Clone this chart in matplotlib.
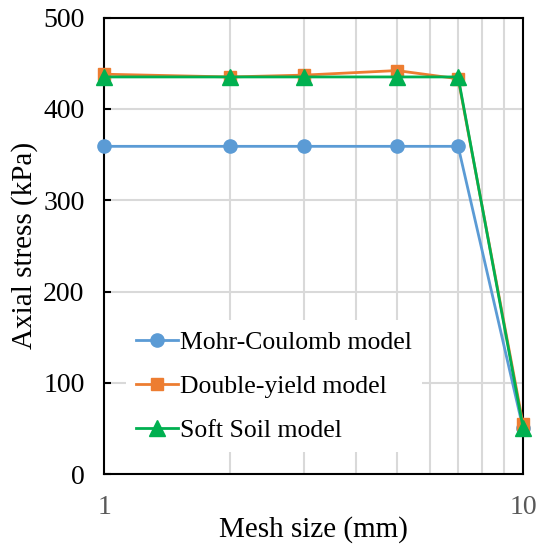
import matplotlib.pyplot as plt
from matplotlib.ticker import NullFormatter

# mesh sizes (mm) and axial stress (kPa)
mesh_size = [1, 2, 3, 5, 7, 10]
mohr_coulomb = [359, 359, 359, 359, 359, 50]
double_yield = [438, 435, 437, 442, 433, 55]
soft_soil = [435, 435, 435, 435, 435, 51]

series_names = ["Mohr-Coulomb model", "Double-yield model", "Soft Soil model"]
x_ticks = [1, 10]
y_ticks = [0, 100, 200, 300, 400, 500]

plt.rcParams['font.family'] = ['Liberation Serif', 'DejaVu Serif']

fig = plt.figure(figsize=(5.42, 5.5), dpi=100)
ax = fig.add_axes([0.192, 0.138, 0.773, 0.830])

ax.plot(mesh_size, mohr_coulomb, color='#5B9BD5', lw=2, marker='o', ms=9.5,
        label=series_names[0], zorder=3, clip_on=False)
ax.plot(mesh_size, double_yield, color='#ED7D31', lw=2, marker='s', ms=8,
        label=series_names[1], zorder=3, clip_on=False)
ax.plot(mesh_size, soft_soil, color='#00B050', lw=2, marker='^', ms=11,
        label=series_names[2], zorder=4, clip_on=False)

ax.set_xscale('log')
ax.set_xlim(1, 10)
ax.set_ylim(0, 500)
ax.set_xticks(x_ticks)
ax.set_xticklabels([str(t) for t in x_ticks])
ax.xaxis.set_minor_formatter(NullFormatter())
ax.set_yticks(y_ticks)

# grid: horizontal at majors, vertical at log minors
ax.grid(True, which='major', axis='y', color='#D9D9D9', lw=1.5)
ax.grid(True, which='minor', axis='x', color='#D9D9D9', lw=1.5)
ax.set_axisbelow(True)

ax.tick_params(axis='y', direction='in', length=5, width=1.5, labelsize=20, pad=14)
ax.tick_params(axis='x', which='both', length=0, labelsize=20, pad=15,
               labelcolor='#595959')
for s in ax.spines.values():
    s.set_linewidth(1.5)

ax.set_xlabel('Mesh size (mm)', fontsize=21, labelpad=-3)
ax.set_ylabel('Axial stress (kPa)', fontsize=21, labelpad=4)

leg = ax.legend(loc='lower left', bbox_to_anchor=(0.022, 0.02), fontsize=18.5,
                frameon=True, framealpha=1, edgecolor='white', fancybox=False,
                handlelength=1.6, handletextpad=0.1, labelspacing=0.82,
                borderpad=0.4)
leg.get_frame().set_linewidth(0)

fig.savefig('out.png', dpi=100)
